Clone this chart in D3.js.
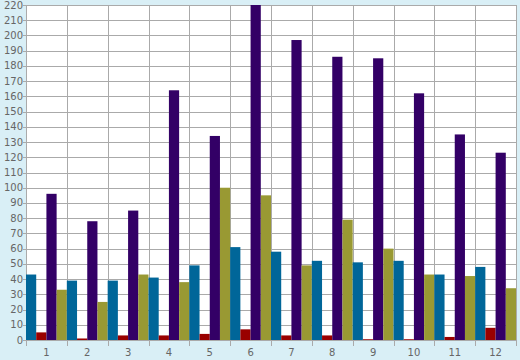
<!DOCTYPE html>
<html>
<head>
<meta charset="utf-8">
<script src="https://cdn.jsdelivr.net/npm/d3@7"></script>
<style>
  body { margin: 0; background: #d9eff6; }
  svg { display: block; }
</style>
</head>
<body>
<script>
const panel_width = 520;
const panel_height = 360;

const categories = ["1", "2", "3", "4", "5", "6", "7", "8", "9", "10", "11", "12"];
const seriesNames = ["blue", "red", "purple", "olive"];
const blueValues = [43, 39, 39, 41, 49, 61, 58, 52, 51, 52, 43, 48];
const redValues = [5, 1, 3, 3, 4, 7, 3, 3, 0.5, 0.5, 2, 8];
const purpleValues = [96, 78, 85, 164, 134, 220, 197, 186, 185, 162, 135, 123];
const oliveValues = [33, 25, 43, 38, 100, 95, 49, 79, 60, 43, 42, 34];
const yTicks = d3.range(0, 221, 10);

const seriesColors = ["#006699", "#990000", "#330066", "#999933"];
const allSeries = [blueValues, redValues, purpleValues, oliveValues];

const plotLeft = 26, plotRight = 516, plotTop = 5, plotBottom = 340;

const svg = d3.select("body")
    .append("svg")
    .attr("width", panel_width)
    .attr("height", panel_height);

const x = d3.scaleBand().domain(categories).range([plotLeft, plotRight]).padding(0);
const xInner = d3.scaleBand().domain(seriesNames).range([0, x.bandwidth()]).padding(0);
const y = d3.scaleLinear().domain([0, 220]).range([plotBottom, plotTop]);

// plot background
svg.append("rect")
    .attr("x", plotLeft)
    .attr("y", plotTop)
    .attr("width", plotRight - plotLeft)
    .attr("height", plotBottom - plotTop)
    .attr("fill", "white");

// horizontal grid
svg.append("g")
    .selectAll("line")
    .data(yTicks)
    .join("line")
    .attr("x1", plotLeft - 3)
    .attr("x2", plotRight)
    .attr("y1", d => Math.round(y(d)) + 0.5)
    .attr("y2", d => Math.round(y(d)) + 0.5)
    .attr("stroke", "#aaaaaa")
    .attr("stroke-width", 1);

// vertical grid at category boundaries
const bounds = categories.map(c => x(c)).concat([plotRight]);
svg.append("g")
    .selectAll("line")
    .data(bounds)
    .join("line")
    .attr("x1", d => Math.round(d) + 0.5)
    .attr("x2", d => Math.round(d) + 0.5)
    .attr("y1", plotTop)
    .attr("y2", plotBottom + 6)
    .attr("stroke", "#aaaaaa")
    .attr("stroke-width", 1);

// bars
const groups = svg.append("g")
    .selectAll("g")
    .data(categories)
    .join("g")
    .attr("transform", d => `translate(${x(d)},0)`);

groups.selectAll("rect")
    .data((c, i) => allSeries.map((vals, j) => ({ key: seriesNames[j], value: vals[i], color: seriesColors[j] })))
    .join("rect")
    .attr("x", d => xInner(d.key))
    .attr("width", xInner.bandwidth())
    .attr("y", d => y(d.value))
    .attr("height", d => y(0) - y(d.value))
    .attr("fill", d => d.color);

// y labels
svg.append("g")
    .selectAll("text")
    .data(yTicks)
    .join("text")
    .attr("x", plotLeft - 3)
    .attr("y", d => y(d) + 0.5)
    .attr("text-anchor", "end")
    .attr("dominant-baseline", "middle")
    .attr("font-family", "DejaVu Sans, sans-serif")
    .attr("font-size", "10px")
    .attr("fill", "#666666")
    .text(d => d);

// x labels
svg.append("g")
    .selectAll("text")
    .data(categories)
    .join("text")
    .attr("x", d => x(d) + x.bandwidth() / 2)
    .attr("y", 353)
    .attr("text-anchor", "middle")
    .attr("dominant-baseline", "middle")
    .attr("font-family", "DejaVu Sans, sans-serif")
    .attr("font-size", "10px")
    .attr("fill", "#666666")
    .text(d => d);
</script>
</body>
</html>
